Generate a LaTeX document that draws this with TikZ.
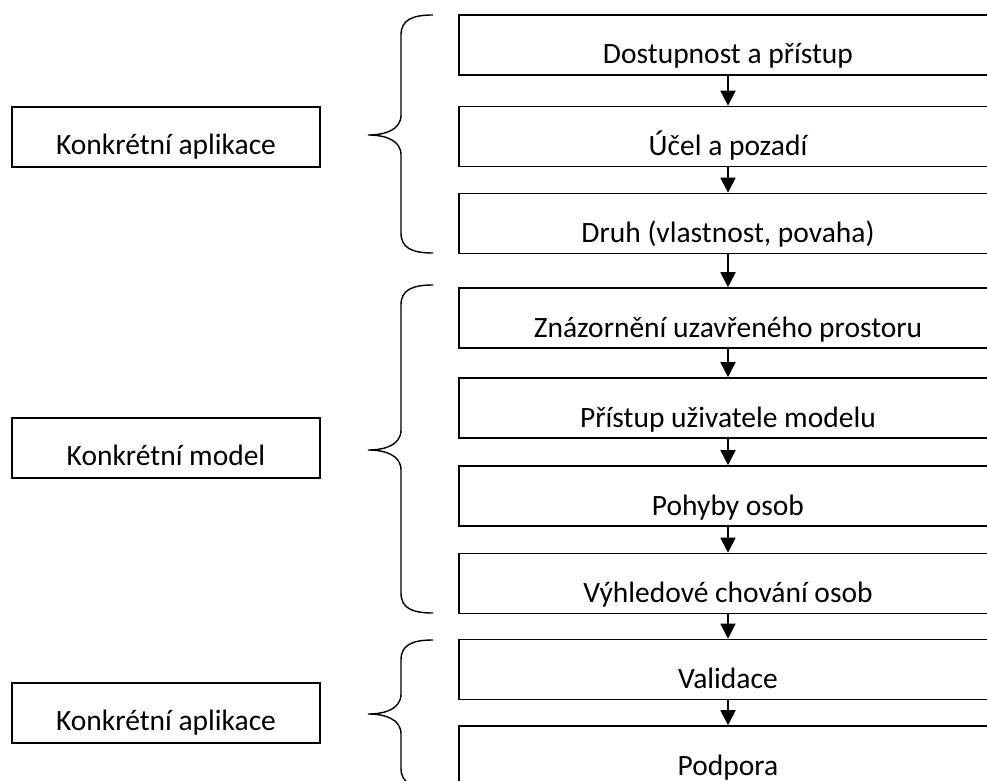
\documentclass[tikz,border=0pt]{standalone}
\usepackage{fontspec}
\setmainfont{Carlito}
\usetikzlibrary{arrows.meta}
\tikzset{
  rbox/.style={draw, line width=1.6pt, inner xsep=0pt, inner ysep=0pt,
    minimum width=538pt, text height=49pt, text depth=11pt, anchor=center,
    font=\fontsize{29.5}{34}\selectfont},
  lbox/.style={draw, line width=1.6pt, inner xsep=0pt, inner ysep=0pt,
    minimum width=308pt, text height=47pt, text depth=13pt, anchor=center,
    font=\fontsize{29.5}{34}\selectfont},
  flow/.style={line width=1.8pt, -{Triangle[width=15pt,length=15pt]}},
  brace/.style={line width=1.4pt},
}
\newcommand{\mybrace}[3]{%
  \draw[brace] (433,#1) .. controls (412,#1) and (401,#1+5) .. (401,#1+20)
    -- (401,#3-20) .. controls (401,#3-5) and (385,#3) .. (368,#3)
    .. controls (385,#3) and (401,#3+5) .. (401,#3+20)
    -- (401,#2-20) .. controls (401,#2-5) and (412,#2) .. (433,#2);}
\begin{document}
\begin{tikzpicture}[x=1pt,y=-1pt]
\useasboundingbox (0,0) rectangle (987,781);
\clip (0,0) rectangle (987,781);
% right column
\node[rbox] (b1) at (728,45)    {Dostupnost a přístup};
\node[rbox] (b2) at (728,136.5) {Účel a pozadí};
\node[rbox] (b3) at (728,223.5) {Druh (vlastnost, povaha)};
\node[rbox] (b4) at (728,318)   {Znázornění uzavřeného prostoru};
\node[rbox] (b5) at (728,408)   {Přístup uživatele modelu};
\node[rbox] (b6) at (728,496)   {Pohyby osob};
\node[rbox] (b7) at (728,583.5) {Výhledové chování osob};
\node[rbox] (b8) at (728,669.5) {Validace};
\node[rbox] (b9) at (728,756)   {Podpora};
\foreach \a/\b in {b1/b2,b2/b3,b3/b4,b4/b5,b5/b6,b6/b7,b7/b8,b8/b9}
  \draw[flow] (\a.south) -- (\b.north);
% left column
\node[lbox] (l1) at (166,137) {Konkrétní aplikace};
\node[lbox] (l2) at (166,448) {Konkrétní model};
\node[lbox] (l3) at (166,713) {Konkrétní aplikace};
% braces
\mybrace{15}{253}{135}
\mybrace{285}{613}{450}
\mybrace{640}{788}{714}
\end{tikzpicture}
\end{document}
